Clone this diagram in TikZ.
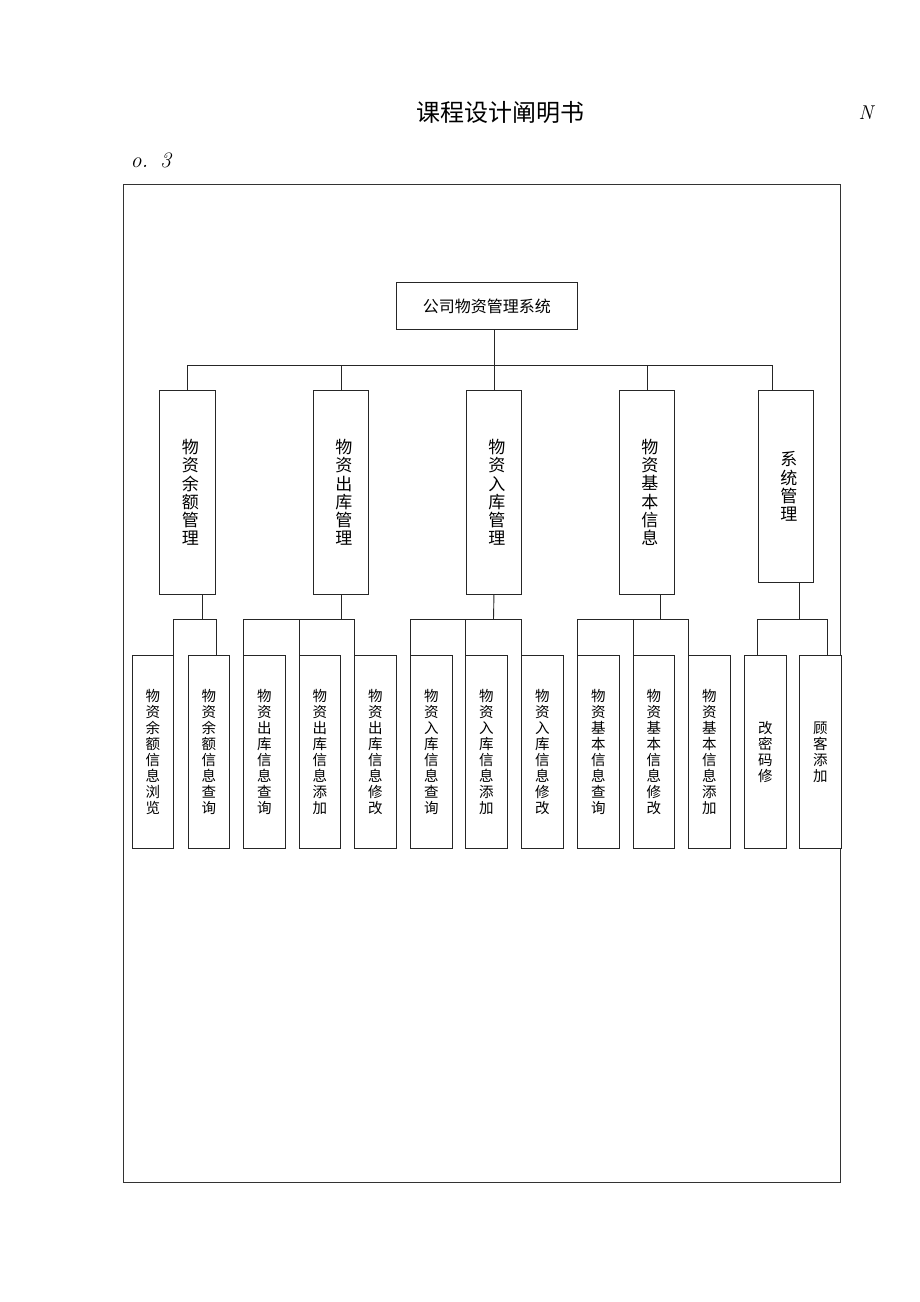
\documentclass[tikz,border=0pt]{standalone}
\usepackage{fontspec}
\newfontfamily\cjk{Noto Sans CJK SC}
\begin{document}
\begin{tikzpicture}[x=1pt,y=-1pt,
  ln/.style={draw=black!85,line width=0.9pt},
  frame/.style={draw=black!80,line width=0.9pt},
  bx/.style={draw=black!85,line width=0.9pt,fill=white,inner sep=0pt,align=center,anchor=north west},
  lvA/.style={bx,minimum width=55pt,minimum height=204pt,font=\cjk\fontsize{17pt}{18.2pt}\selectfont},
  leaf/.style={bx,minimum width=42pt,minimum height=193pt,font=\cjk\fontsize{14.5pt}{16pt}\selectfont}]
\useasboundingbox (0,0) rectangle (920,1302);
\fill[white] (0,0) rectangle (920,1302);
% header
\node[font=\cjk\fontsize{24pt}{28pt}\selectfont] (title) at (500,112) {课程设计阐明书};
\node[font=\itshape\fontsize{20pt}{22pt}\selectfont] (nn) at (866,113) {N};
\node[font=\itshape\fontsize{22pt}{24pt}\selectfont,anchor=west] (o3) at (127,160) {o.\hspace{12pt}3};
% frame
\draw[frame] (123,184) rectangle (840,1182);
% root
\node[bx,minimum width=181pt,minimum height=47pt,font=\cjk\fontsize{16pt}{18pt}\selectfont] (root) at (396,282) {公司物资管理系统};
% level 2
\node[lvA,minimum width=56pt] (b1) at (159,390) {\hspace*{6pt}物\\\hspace*{6pt}资\\\hspace*{6pt}余\\\hspace*{6pt}额\\\hspace*{6pt}管\\\hspace*{6pt}理};
\node[lvA] (b2) at (313,390) {\hspace*{6pt}物\\\hspace*{6pt}资\\\hspace*{6pt}出\\\hspace*{6pt}库\\\hspace*{6pt}管\\\hspace*{6pt}理};
\node[lvA] (b3) at (466,390) {\hspace*{6pt}物\\\hspace*{6pt}资\\\hspace*{6pt}入\\\hspace*{6pt}库\\\hspace*{6pt}管\\\hspace*{6pt}理};
\node[lvA] (b4) at (619,390) {\hspace*{6pt}物\\\hspace*{6pt}资\\\hspace*{6pt}基\\\hspace*{6pt}本\\\hspace*{6pt}信\\\hspace*{6pt}息};
\node[lvA,minimum height=192pt] (b5) at (758,390) {\hspace*{6pt}系\\\hspace*{6pt}统\\\hspace*{6pt}管\\\hspace*{6pt}理};
% leaves
\node[leaf,minimum width=41pt] (l1) at (132,655) {物\\资\\余\\额\\信\\息\\浏\\览};
\node[leaf,minimum width=41pt] (l2) at (188,655) {物\\资\\余\\额\\信\\息\\查\\询};
\node[leaf] (l3) at (243,655) {物\\资\\出\\库\\信\\息\\查\\询};
\node[leaf,minimum width=41pt] (l4) at (299,655) {物\\资\\出\\库\\信\\息\\添\\加};
\node[leaf] (l5) at (354,655) {物\\资\\出\\库\\信\\息\\修\\改};
\node[leaf] (l6) at (410,655) {物\\资\\入\\库\\信\\息\\查\\询};
\node[leaf] (l7) at (465,655) {物\\资\\入\\库\\信\\息\\添\\加};
\node[leaf] (l8) at (521,655) {物\\资\\入\\库\\信\\息\\修\\改};
\node[leaf] (l9) at (577,655) {物\\资\\基\\本\\信\\息\\查\\询};
\node[leaf,minimum width=41pt] (l10) at (633,655) {物\\资\\基\\本\\信\\息\\修\\改};
\node[leaf] (l11) at (688,655) {物\\资\\基\\本\\信\\息\\添\\加};
\node[leaf] (l12) at (744,655) {改\\密\\码\\修};
\node[leaf] (l13) at (799,655) {顾\\客\\添\\加};
% root to level 2
\coordinate (t5) at (772,365);
\draw[ln] (root.south -| b3.north) -- (b3.north);
\draw[ln] (b1.north) -- (b1.north |- t5) -- (t5) -- (t5 |- b5.north);
\draw[ln] (b2.north) -- (b2.north |- t5);
\draw[ln] (b4.north) -- (b4.north |- t5);
% group 1
\coordinate (g1) at (202,619);
\coordinate (d2) at (216,655);
\draw[ln] (b1.south -| g1) -- (g1);
\draw[ln] (l1.north east) |- (d2 |- g1) -- (d2);
% group 2
\coordinate (g2) at (341,619);
\draw[ln] (b2.south -| g2) -- (g2);
\draw[ln] (l3.north west) |- (l5.north west |- g2) -- (l5.north west);
\draw[ln] (l4.north west) -- (l4.north west |- g2);
% group 3
\coordinate (g3) at (493.5,619);
\draw[ln] (b3.south) -- (g3);
\draw[ln] (l6.north west) |- (l8.north west |- g3) -- (l8.north west);
\draw[ln] (l7.north west) -- (l7.north west |- g3);
% group 4
\coordinate (g4) at (660,619);
\draw[ln] (b4.south -| g4) -- (g4);
\draw[ln] (l9.north west) |- (l11.north west |- g4) -- (l11.north west);
\draw[ln] (l10.north west) -- (l10.north west |- g4);
% group 5
\coordinate (g5) at (799,619);
\coordinate (d12) at (757,655);
\coordinate (d13) at (827,655);
\draw[ln] (b5.south -| g5) -- (g5);
\draw[ln] (d12) |- (d13 |- g5) -- (d13);
\end{tikzpicture}
\end{document}
